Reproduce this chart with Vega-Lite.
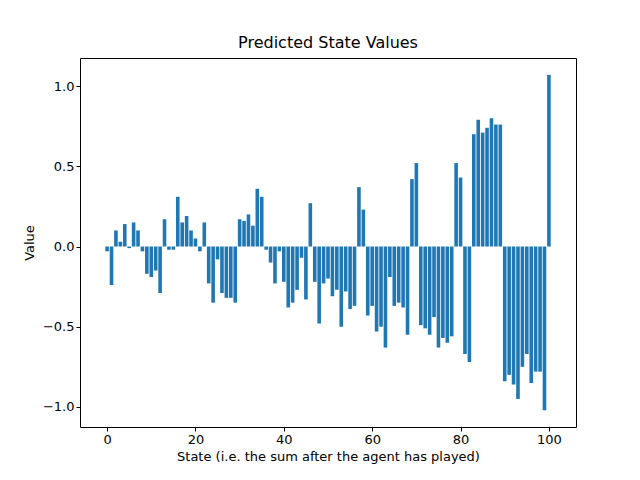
{
  "$schema": "https://vega.github.io/schema/vega-lite/v6.json",
  "width": 496,
  "height": 369,
  "autosize": {"type": "none"},
  "padding": {"left": 80, "top": 58, "right": 64, "bottom": 53},
  "title": {"text": "Predicted State Values", "fontSize": 16, "fontWeight": "normal", "font": "DejaVu Sans", "offset": 7},
  "data": {
    "values": [
      {"state": 0, "value": -0.03}, {"state": 1, "value": -0.24}, {"state": 2, "value": 0.10}, {"state": 3, "value": 0.03},
      {"state": 4, "value": 0.14}, {"state": 5, "value": -0.01}, {"state": 6, "value": 0.15}, {"state": 7, "value": 0.10},
      {"state": 8, "value": -0.03}, {"state": 9, "value": -0.17}, {"state": 10, "value": -0.19}, {"state": 11, "value": -0.15},
      {"state": 12, "value": -0.29}, {"state": 13, "value": 0.17}, {"state": 14, "value": -0.02}, {"state": 15, "value": -0.02},
      {"state": 16, "value": 0.31}, {"state": 17, "value": 0.15}, {"state": 18, "value": 0.19}, {"state": 19, "value": 0.10},
      {"state": 20, "value": 0.05}, {"state": 21, "value": -0.03}, {"state": 22, "value": 0.15}, {"state": 23, "value": -0.23},
      {"state": 24, "value": -0.35}, {"state": 25, "value": -0.08}, {"state": 26, "value": -0.29}, {"state": 27, "value": -0.32},
      {"state": 28, "value": -0.32}, {"state": 29, "value": -0.35}, {"state": 30, "value": 0.17}, {"state": 31, "value": 0.16},
      {"state": 32, "value": 0.20}, {"state": 33, "value": 0.13}, {"state": 34, "value": 0.36}, {"state": 35, "value": 0.31},
      {"state": 36, "value": -0.02}, {"state": 37, "value": -0.10}, {"state": 38, "value": -0.23}, {"state": 39, "value": -0.03},
      {"state": 40, "value": -0.22}, {"state": 41, "value": -0.38}, {"state": 42, "value": -0.35}, {"state": 43, "value": -0.27},
      {"state": 44, "value": -0.07}, {"state": 45, "value": -0.33}, {"state": 46, "value": 0.27}, {"state": 47, "value": -0.22},
      {"state": 48, "value": -0.48}, {"state": 49, "value": -0.23}, {"state": 50, "value": -0.20}, {"state": 51, "value": -0.31},
      {"state": 52, "value": -0.27}, {"state": 53, "value": -0.50}, {"state": 54, "value": -0.28}, {"state": 55, "value": -0.39},
      {"state": 56, "value": -0.37}, {"state": 57, "value": 0.37}, {"state": 58, "value": 0.23}, {"state": 59, "value": -0.43},
      {"state": 60, "value": -0.37}, {"state": 61, "value": -0.53}, {"state": 62, "value": -0.50}, {"state": 63, "value": -0.63},
      {"state": 64, "value": -0.19}, {"state": 65, "value": -0.37}, {"state": 66, "value": -0.35}, {"state": 67, "value": -0.38},
      {"state": 68, "value": -0.55}, {"state": 69, "value": 0.42}, {"state": 70, "value": 0.52}, {"state": 71, "value": -0.49},
      {"state": 72, "value": -0.51}, {"state": 73, "value": -0.55}, {"state": 74, "value": -0.44}, {"state": 75, "value": -0.63},
      {"state": 76, "value": -0.57}, {"state": 77, "value": -0.60}, {"state": 78, "value": -0.56}, {"state": 79, "value": 0.52},
      {"state": 80, "value": 0.43}, {"state": 81, "value": -0.67}, {"state": 82, "value": -0.72}, {"state": 83, "value": 0.70},
      {"state": 84, "value": 0.79}, {"state": 85, "value": 0.71}, {"state": 86, "value": 0.74}, {"state": 87, "value": 0.80},
      {"state": 88, "value": 0.76}, {"state": 89, "value": 0.76}, {"state": 90, "value": -0.84}, {"state": 91, "value": -0.80},
      {"state": 92, "value": -0.86}, {"state": 93, "value": -0.95}, {"state": 94, "value": -0.75}, {"state": 95, "value": -0.67},
      {"state": 96, "value": -0.85}, {"state": 97, "value": -0.78}, {"state": 98, "value": -0.78}, {"state": 99, "value": -1.02},
      {"state": 100, "value": 1.07}
    ]
  },
  "mark": {"type": "bar", "size": 3.6, "color": "#1f77b4"},
  "encoding": {
    "x": {
      "field": "state", "type": "quantitative",
      "title": "State (i.e. the sum after the agent has played)",
      "scale": {"domain": [-5, 105], "nice": false, "zero": false},
      "axis": {"values": [0, 20, 40, 60, 80, 100], "titlePadding": 4}
    },
    "y": {
      "field": "value", "type": "quantitative", "title": "Value",
      "scale": {"domain": [-1.125, 1.175], "nice": false},
      "axis": {"values": [-1, -0.5, 0, 0.5, 1], "format": ".1f", "titlePadding": 6}
    }
  },
  "config": {
    "view": {"stroke": "black", "strokeWidth": 1},
    "axis": {
      "grid": false, "domain": false, "tickColor": "black", "tickSize": 4,
      "labelFont": "DejaVu Sans", "labelFontSize": 13, "labelColor": "black",
      "titleFont": "DejaVu Sans", "titleFontSize": 13, "titleFontWeight": "normal", "titleColor": "black"
    }
  }
}
